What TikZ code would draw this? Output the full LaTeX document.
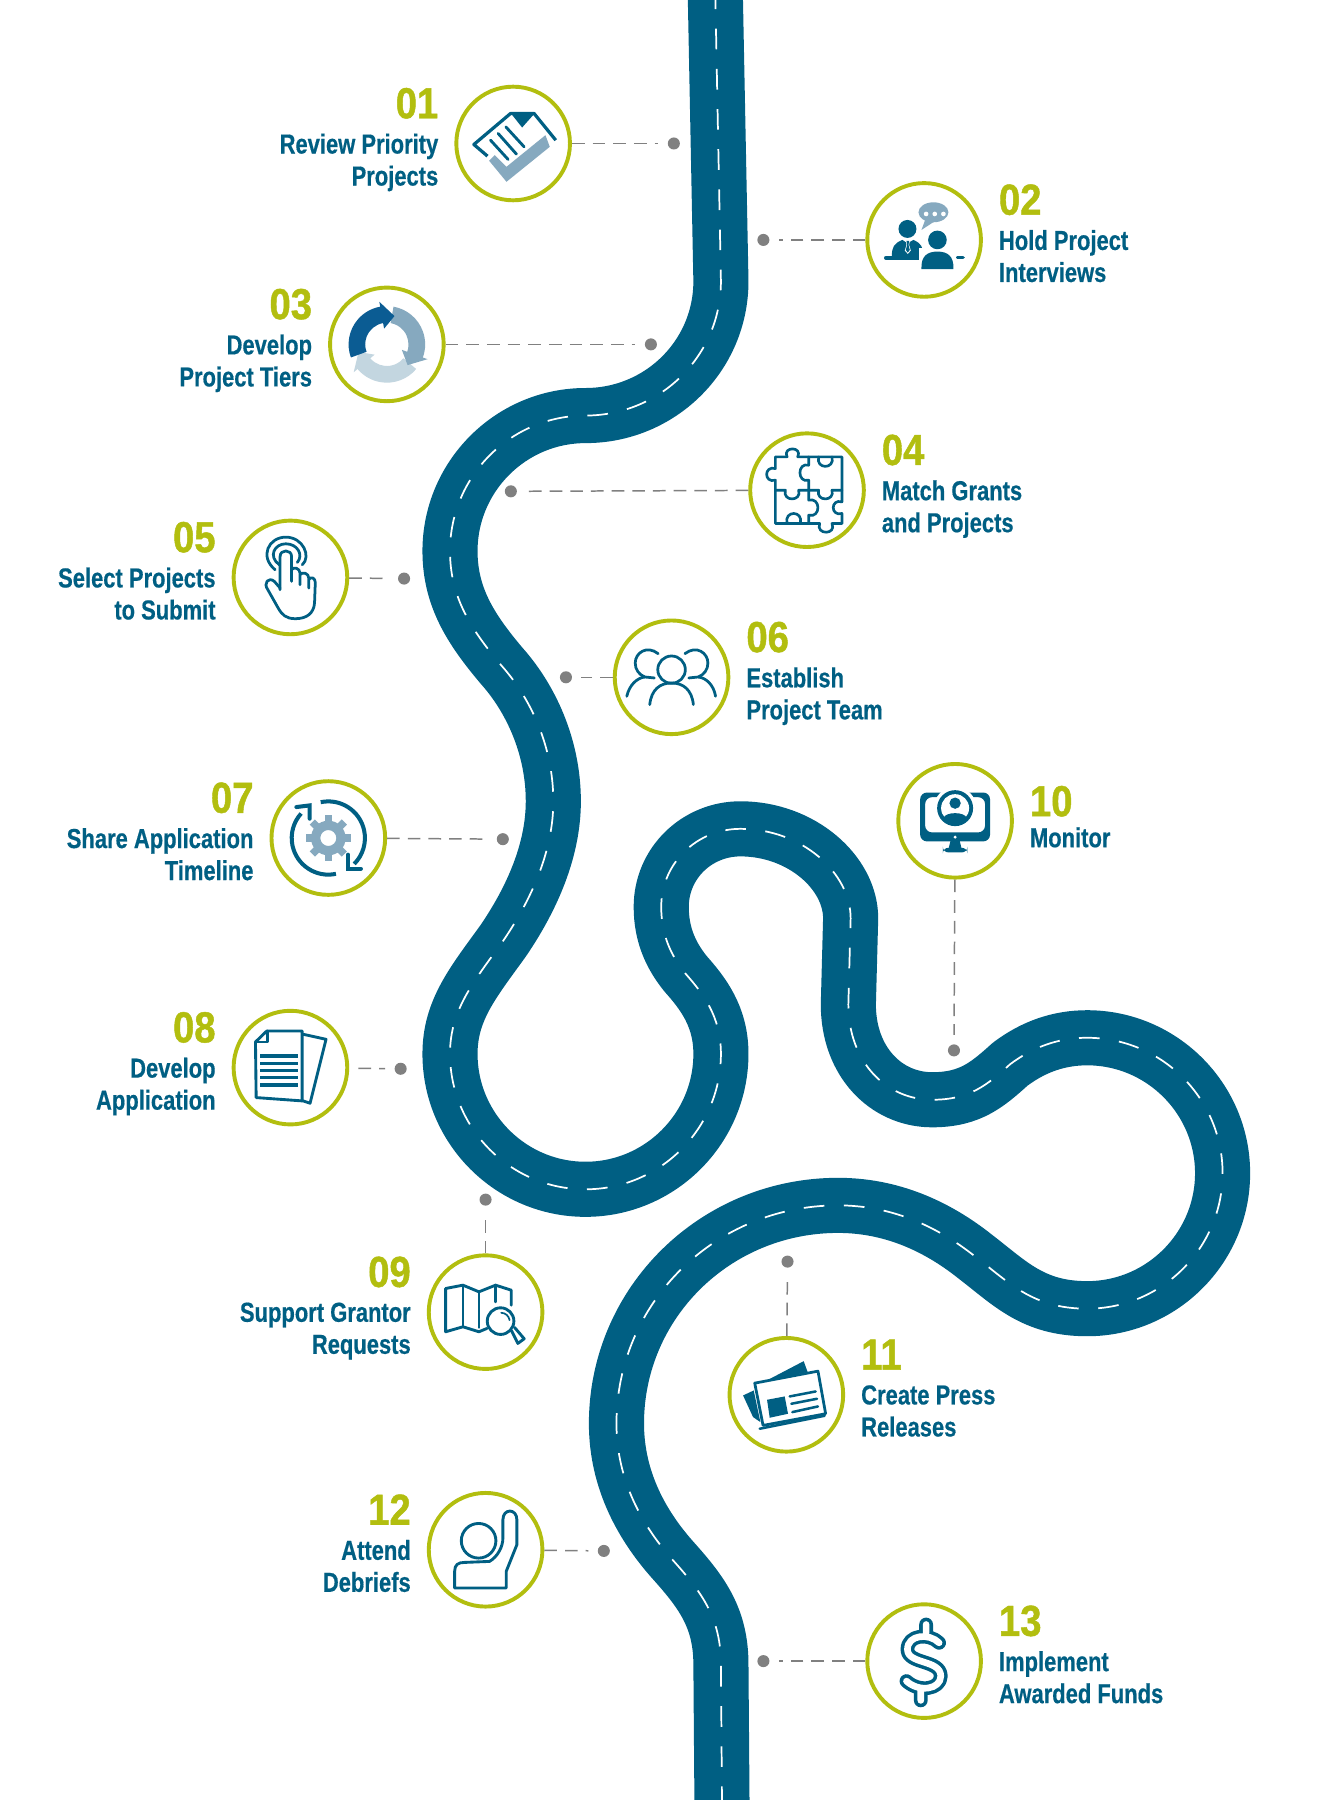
\documentclass[tikz,border=0pt]{standalone}
\usepackage{fontspec}
\newfontfamily\labfont[FakeStretch=0.80,FakeBold=0.5]{Liberation Sans}
\newfontfamily\numfont[FakeStretch=0.88,FakeBold=1]{Liberation Sans}
\definecolor{roadb}{HTML}{005F83}
\definecolor{lightb}{HTML}{86A9BF}
\definecolor{paleb}{HTML}{C3D6E0}
\definecolor{deepb}{HTML}{0B5C93}
\definecolor{limeg}{HTML}{B2BE0F}
\definecolor{dotg}{HTML}{808080}
\tikzset{
 ring/.style={circle,draw=limeg,line width=3.4bp,fill=white,minimum size=99bp,inner sep=0pt},
 dotn/.style={circle,fill=dotg,minimum size=10.5bp,inner sep=0pt},
 conn/.style={draw=dotg,line width=1.3bp,dash pattern=on 11bp off 7bp,shorten >=8bp},
 numtxt/.style={text=limeg,inner sep=0pt,font=\numfont\bfseries\fontsize{38}{38}\selectfont},
 labtxt/.style={text=roadb,inner sep=0pt,font=\labfont\bfseries\fontsize{24}{28}\selectfont,
   execute at begin node=\rule{0pt}{20bp},execute at end node=\rule[-7bp]{0pt}{7bp}},
 icn/.style={x=.29bp,y=-.29bp,shift={(-180,-180)}},
 icz/.style={x=.3333bp,y=-.29bp},
 icp/.style={x=.29bp,y=-.29bp},
 ol/.style={draw=roadb,line width=2.5bp,line join=round,line cap=round},
}
\newcommand{\RoadP}{(623,-10) -- (628,245) .. controls (628,310) and (575,362) .. (510,362)
 .. controls (445,362) and (392,415) .. (392,480)
 .. controls (392,520) and (410,548) .. (437,580)
 .. controls (462,608) and (482,650) .. (482,698)
 .. controls (482,740) and (464,782) .. (438,820)
 .. controls (412,856) and (392,880) .. (392,918)
 .. controls (392,983) and (445,1036) .. (510,1036)
 .. controls (575,1036) and (628,983) .. (628,918)
 .. controls (628,885) and (612,865) .. (597,848)
 .. controls (585,833) and (576,815) .. (576,790)
 .. controls (576,752) and (607,722) .. (645,722)
 .. controls (698,722) and (741,760) .. (741,800)
 -- (739,875)
 .. controls (739,925) and (772,958) .. (812,958)
 .. controls (845,958) and (860,945) .. (880,927)
 .. controls (900,912) and (922,904) .. (947,904)
 .. controls (1012,904) and (1065,957) .. (1065,1022)
 .. controls (1065,1087) and (1012,1140) .. (947,1140)
 .. controls (900,1140) and (880,1118) .. (850,1095)
 .. controls (815,1067) and (775,1050) .. (730,1050)
 .. controls (623,1050) and (537,1135) .. (537,1240)
 .. controls (537,1290) and (560,1330) .. (587,1360)
 .. controls (612,1388) and (628,1410) .. (628,1450)
 -- (629,1580)}
% id, cx, cy, number, text, dotx, doty
\newcommand{\StepL}[7]{%
 \node[ring] (c#1) at (#2,#3) {};
 \node[numtxt,anchor=east] (n#1) at ([xshift=-65bp,yshift=35bp]c#1.center) {#4};
 \node[labtxt,anchor=east,align=right] (l#1) at ([xshift=-65bp,yshift=-17.5bp]c#1.center) {#5};
 \node[dotn] (d#1) at (#6,#7) {};
 \draw[conn] (c#1) -- (d#1);}
\newcommand{\StepR}[7]{%
 \node[ring] (c#1) at (#2,#3) {};
 \node[numtxt,anchor=west] (n#1) at ([xshift=65bp,yshift=35bp]c#1.center) {#4};
 \node[labtxt,anchor=west,align=left] (l#1) at ([xshift=65bp,yshift=-17.5bp]c#1.center) {#5};
 \node[dotn] (d#1) at (#6,#7) {};
 \draw[conn] (c#1) -- (d#1);}
\begin{document}
\begin{tikzpicture}[x=1bp,y=-1bp]
\useasboundingbox (0,0) rectangle (1150.7,1568);
\fill[white] (0,0) rectangle (1150.7,1568);
\begin{scope}
\clip (0,0) rectangle (1150.7,1568);
\draw[roadb,line width=48bp,line join=round] \RoadP;
\draw[white,line width=1.5bp,dash pattern=on 18bp off 17bp] \RoadP;
\end{scope}

\StepL{01}{447}{125}{01}{Review Priority\\Projects}{587}{125}
\StepR{02}{805}{209}{02}{Hold Project\\Interviews}{665}{209}
\StepL{03}{337}{300}{03}{Develop\\Project Tiers}{567}{300}
\StepR{04}{703}{427}{04}{Match Grants\\and Projects}{445}{428}
\StepL{05}{253}{503}{05}{Select Projects\\to Submit}{352}{504}
\StepR{06}{585}{590}{06}{Establish\\Project Team}{493}{590}
\StepL{07}{286}{730}{07}{Share Application\\Timeline}{438}{731}
% 08: its connector stops short of the ring
\node[ring] (c08) at (253,930) {};
\node[numtxt,anchor=east] (n08) at ([xshift=-65bp,yshift=35bp]c08.center) {08};
\node[labtxt,anchor=east,align=right] (l08) at ([xshift=-65bp,yshift=-17.5bp]c08.center) {Develop\\Application};
\node[dotn] (d08) at (349,931) {};
\draw[conn,shorten <=8bp] (c08) -- (d08);
\StepL{09}{423}{1143}{09}{Support Grantor\\Requests}{423}{1045}
% 10 has a single line of text
\node[ring] (c10) at (832,715) {};
\node[numtxt,anchor=west] (n10) at ([xshift=65bp,yshift=17bp]c10.center) {10};
\node[labtxt,anchor=west] (l10) at ([xshift=65bp,yshift=-16.5bp]c10.center) {Monitor};
\node[dotn] (d10) at (831,915) {};
\draw[conn] (c10) -- (d10);
\StepR{11}{685}{1215}{11}{Create Press\\Releases}{686}{1099}
\StepL{12}{423}{1350}{12}{Attend\\Debriefs}{526}{1351}
\StepR{13}{805}{1447}{13}{Implement\\Awarded Funds}{665}{1447}

% icon 01
\begin{scope}[shift={(447,125)},icn]
 \fill[lightb] (108,232) -- (160,295) -- (290,190) -- (277,155) -- (160,250) -- (125,215) -- cycle;
 \draw[ol,line width=2.8bp,line cap=butt] (103,218) -- (62,183) -- (172,90) -- (243,90) -- (308,170);
 \fill[roadb] (172,88) -- (246,88) -- (207,132) -- cycle;
 \draw[ol] (112,170) -- (165,228) (135,150) -- (190,212) (158,130) -- (213,190);
\end{scope}
% icon 02
\begin{scope}[shift={(805,209)},icn]
 \fill[lightb] (208,97) ellipse [x radius=45,y radius=30];
 \fill[lightb] (185,115) -- (172,150) -- (215,122) -- cycle;
 \fill[white] (186,102) circle [radius=7] (212,102) circle [radius=7] (238,102) circle [radius=7];
 \fill[roadb] (130,147) circle [radius=27];
 \fill[roadb] (83,230) .. controls (83,200) and (90,190) .. (115,180) -- (130,190) -- (148,180) .. controls (170,190) and (178,200) .. (178,230) -- cycle;
 \fill[white] (125,182) -- (137,182) -- (135,195) -- (140,212) -- (131,222) -- (122,212) -- (127,195) -- cycle;
 \fill[roadb] (127,183) -- (135,183) -- (133,195) -- (137,210) -- (131,218) -- (125,210) -- (129,195) -- cycle;
 \draw[roadb,line width=3.2bp,line cap=round] (65,234) -- (170,234) (280,233) -- (297,233);
 \fill[white] (165,265) rectangle (275,205);
 \fill[roadb] (220,180) circle [radius=28];
 \fill[roadb] (172,268) .. controls (170,228) and (190,215) .. (220,215) .. controls (250,215) and (270,228) .. (268,268) -- cycle;
\end{scope}
% icon 03
\begin{scope}[shift={(337,300)},icp]
 \fill[paleb] (40:115) arc [start angle=40,end angle=140,radius=115] -- (140:130) -- (165:88) -- (140:48) -- (140:65) arc [start angle=140,end angle=40,radius=65] -- cycle;
 \fill[lightb] (280:115) arc [start angle=280,end angle=380,radius=115] -- (20:130) -- (45:88) -- (20:48) -- (20:65) arc [start angle=380,end angle=280,radius=65] -- cycle;
 \fill[deepb] (160:115) arc [start angle=160,end angle=260,radius=115] -- (260:130) -- (285:88) -- (260:48) -- (260:65) arc [start angle=260,end angle=160,radius=65] -- cycle;
\end{scope}
% icon 04
\begin{scope}[shift={(703,427)},icn]
 \draw[ol,line width=2.3bp] (85,180) -- (85,150) .. controls (50,160) and (50,105) .. (85,115) -- (85,80) -- (120,80) .. controls (105,48) and (168,48) .. (152,80) -- (285,80) -- (285,180)
  -- (285,215) .. controls (250,205) and (250,260) .. (285,250) -- (285,280) -- (255,280) .. controls (270,315) and (205,315) .. (218,280) -- (85,280) -- cycle;
 \draw[ol,line width=2.3bp] (85,180) -- (115,180) .. controls (105,215) and (165,215) .. (155,180) -- (215,180) .. controls (205,215) and (265,215) .. (255,180) -- (285,180);
 \draw[ol,line width=2.3bp] (185,80) -- (185,105) .. controls (150,95) and (150,160) .. (185,150) -- (185,210) .. controls (222,200) and (222,265) .. (185,255) -- (185,280);
 \draw[ol,line width=2.3bp] (215,80) .. controls (205,118) and (265,118) .. (255,80);
 \draw[ol,line width=2.3bp] (120,280) .. controls (110,240) and (170,240) .. (160,280);
\end{scope}
% icon 05
\begin{scope}[shift={(253,503)},icz,shift={(-237,-533)}]
 \draw[ol,line width=2.4bp] (197,510) .. controls (155,470) and (180,412) .. (225,412) .. controls (270,412) and (292,470) .. (268,495);
 \draw[ol,line width=2.4bp] (208,495) .. controls (178,470) and (195,432) .. (225,432) .. controls (255,432) and (272,465) .. (255,488);
 \draw[ol,line width=2.4bp] (210,570) -- (210,470) .. controls (210,448) and (240,448) .. (240,470) -- (240,545);
 \draw[ol,line width=2.4bp] (240,510) .. controls (245,500) and (262,505) .. (262,520) -- (262,555) (262,525) .. controls (268,515) and (285,520) .. (285,535) -- (285,565) (285,540) .. controls (290,528) and (302,535) .. (302,548) -- (300,610) .. controls (298,640) and (280,657) .. (250,657) .. controls (225,657) and (215,645) .. (205,625) -- (178,570) .. controls (165,550) and (180,530) .. (195,545) -- (210,565);
\end{scope}
% icon 06
\begin{scope}[shift={(585,590)},icz,shift={(-1235,-833)}]
 \draw[ol,line width=2.4bp] (1235,810) ellipse [x radius=36,y radius=41];
 \draw[ol,line width=2.4bp] (1178,915) .. controls (1182,870) and (1205,850) .. (1235,850) .. controls (1265,850) and (1288,870) .. (1292,915);
 \draw[ol,line width=2.4bp] (1200,762) .. controls (1170,735) and (1140,760) .. (1140,790) .. controls (1140,810) and (1150,825) .. (1165,832) -- (1190,835);
 \draw[ol,line width=2.4bp] (1118,890) .. controls (1125,855) and (1145,835) .. (1165,832);
 \draw[ol,line width=2.4bp] (1270,762) .. controls (1300,735) and (1330,760) .. (1330,790) .. controls (1330,810) and (1320,825) .. (1305,832) -- (1280,835);
 \draw[ol,line width=2.4bp] (1350,890) .. controls (1345,855) and (1325,835) .. (1305,832);
\end{scope}
% icon 07
\begin{scope}[shift={(286,730)},icp]
 \foreach \a in {0,45,...,315}{\fill[lightb,rotate=\a] (-11,-68) rectangle (11,-40);}
 \fill[lightb,even odd rule] (0,0) circle [radius=52] (0,0) circle [radius=24];
 \draw[roadb,line width=3.5bp] (258:110) arc [start angle=258,end angle=405,radius=110];
 \draw[roadb,line width=3.5bp] (78:110) arc [start angle=78,end angle=222,radius=110];
 \draw[roadb,line width=3.5bp,line cap=round,line join=miter] (59,50) -- (59,92) -- (98,92);
 \draw[roadb,line width=3.5bp,line cap=round,line join=miter] (-96,-93) -- (-56,-98) -- (-56,-58);
\end{scope}
% icon 08
\begin{scope}[shift={(253,930)},icp,shift={(-183,-985)}]
 \draw[ol] (222,885) -- (290,900) -- (242,1092) -- (212,1082);
 \draw[ol,fill=white] (78,908) -- (112,875) -- (218,875) -- (218,1085) -- (80,1075) -- cycle;
 \draw[ol] (78,908) -- (113,908) -- (113,875);
 \draw[roadb,line width=2.8bp] (93,950) -- (205,950) (93,972) -- (205,972) (93,993) -- (205,993) (93,1015) -- (205,1015) (93,1037) -- (205,1037);
\end{scope}
% icon 09
\begin{scope}[shift={(423,1143)},icp,shift={(-258,-216)}]
 \draw[ol] (262,265) -- (238,275) -- (190,260) -- (138,275) -- (138,145) -- (190,135) -- (238,155) -- (288,135) -- (335,150) -- (335,195);
 \draw[ol] (190,135) -- (190,260) (238,155) -- (238,262) (288,135) -- (288,185);
 \draw[ol,fill=white] (303,243) circle [radius=40];
 \draw[ol,line width=1.5bp] (305,218) .. controls (318,218) and (328,228) .. (330,240);
 \draw[ol,fill=white] (335,270) -- (355,310) -- (374,296) -- (345,262);
\end{scope}
% icon 10
\begin{scope}[shift={(832,715)},icp,shift={(-285,-243)}]
 \fill[roadb,rounded corners=6,even odd rule] (180,158) rectangle (390,305) (195,172) rectangle (375,278);
 \fill[roadb] (272,300) -- (298,300) -- (305,328) -- (265,328) -- cycle;
 \fill[roadb,rounded corners=5] (248,324) rectangle (322,338);
 \fill[white] (285,292) circle [radius=5];
 \fill[white] (285,205) circle [radius=64];
 \fill[roadb] (285,205) circle [radius=54];
 \fill[white] (285,205) circle [radius=42];
 \fill[roadb] (285,190) circle [radius=17];
 \fill[roadb] (250,235) .. controls (255,215) and (315,215) .. (320,235) .. controls (305,255) and (265,255) .. (250,235) -- cycle;
\end{scope}
% icon 11
\begin{scope}[shift={(685,1215)},icp,shift={(-1160,-463)}]
 \fill[roadb] (1030,465) -- (1062,450) -- (1082,545) -- (1060,530) -- cycle;
 \fill[roadb] (1105,418) -- (1212,362) -- (1224,395) -- cycle;
 \draw[ol,fill=white,line width=2.4bp] (1065,428) -- (1255,392) -- (1278,520) -- (1090,555) -- cycle;
 \draw[ol,line width=2.2bp] (1080,565) -- (1275,526);
 \fill[roadb] (1102,478) -- (1155,468) -- (1165,520) -- (1110,532) -- cycle;
 \draw[ol,line width=2.2bp] (1170,468) -- (1248,453) (1175,490) -- (1252,475) (1178,515) -- (1255,498);
\end{scope}
% icon 12
\begin{scope}[shift={(423,1350)},icp,shift={(-258,-930)}]
 \draw[ol] (237,903) circle [radius=52];
 \draw[ol] (165,1045) -- (165,995) .. controls (165,975) and (175,968) .. (195,968) -- (270,965) .. controls (295,950) and (310,920) .. (310,895) -- (310,840) .. controls (310,805) and (352,805) .. (352,840) -- (352,915) -- (320,995) -- (320,1045) -- cycle;
\end{scope}
% icon 13
\begin{scope}[shift={(805,1447)},icn]
 \draw[roadb,line width=12bp,line cap=round,line join=round] (225,125) .. controls (195,95) and (130,100) .. (130,145) .. controls (130,190) and (230,175) .. (230,225) .. controls (230,265) and (165,275) .. (127,240) (186,70) -- (186,95) (170,265) -- (170,298);
 \draw[white,line width=5.8bp,line cap=round,line join=round] (225,125) .. controls (195,95) and (130,100) .. (130,145) .. controls (130,190) and (230,175) .. (230,225) .. controls (230,265) and (165,275) .. (127,240) (186,70) -- (186,95) (170,265) -- (170,298);
\end{scope}
\end{tikzpicture}
\end{document}
